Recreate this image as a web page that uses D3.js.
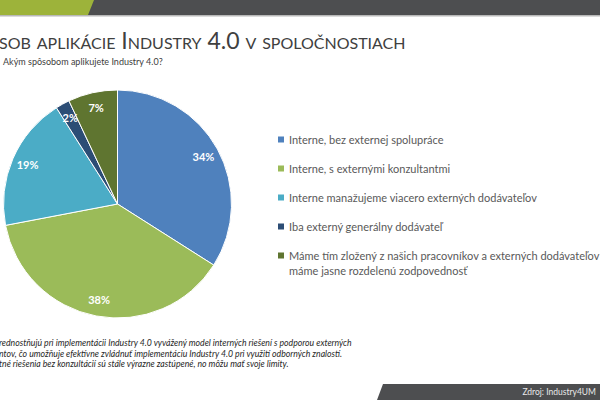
<!DOCTYPE html>
<html><head><meta charset="utf-8">
<script src="https://cdn.jsdelivr.net/npm/d3@7/dist/d3.min.js"></script>
<style>body{margin:0;background:#fff}svg{display:block}</style>
</head><body>
<svg id="c" width="600" height="400"></svg>
<script>
const categories = ["Interne, bez externej spolupráce","Interne, s externými konzultantmi","Interne manažujeme viacero externých dodávateľov","Iba externý generálny dodávateľ","Máme tím zložený z našich pracovníkov a externých dodávateľov|máme jasne rozdelenú zodpovednosť"];
const values = [34, 38, 19, 2, 7];
const colors = ["#4F81BD","#9BBB59","#4BACC6","#2C4D75","#5F7530"];
const titleText = "sob aplikácie Industry 4.0 v spoločnostiach";
const subtitleText = "Akým spôsobom aplikujete Industry 4.0?";
const noteLines = ["rednostňujú pri implementácii Industry 4.0 vyvážený model interných riešení s podporou externých","ntov, čo umožňuje efektívne zvládnuť implementáciu Industry 4.0 pri využití odborných znalostí.","tné riešenia bez konzultácií sú stále výrazne zastúpené, no môžu mať svoje limity."];
const sourceText = "Zdroj: Industry4UM";

const svg = d3.select("#c");
const F = "Lato, 'Open Sans', sans-serif";

// top bar
svg.append("rect").attr("x",0).attr("y",0).attr("width",600).attr("height",15).attr("fill","#4D4E50");
svg.append("rect").attr("x",0).attr("y",15).attr("width",600).attr("height",1.5).attr("fill","#B8B8B8");
svg.append("path").attr("d","M0,0 L94,0 L88,15 L0,15 Z").attr("fill","#9DB33A");

// bottom bar
svg.append("path").attr("d","M383,384 L600,384 L600,400 L377,400 Z").attr("fill","#4D4E50");
svg.append("text").attr("x",596).attr("y",395).attr("text-anchor","end")
  .attr("font-family",F).attr("font-size",8.5).attr("fill","#E8E8E8").text(sourceText);

// title
svg.append("text").attr("x",-1).attr("y",49).attr("font-family",F).attr("font-size",23)
  .attr("font-weight",400).style("font-variant","small-caps").attr("fill","#404040").text(titleText);
svg.append("text").attr("x",3).attr("y",65).attr("font-family",F).attr("font-size",9)
  .attr("fill","#404040").text(subtitleText);

// pie
const cx = 117.5, cy = 204, R = 114;
const g = svg.append("g").attr("transform",`translate(${cx},${cy})`);
const pie = d3.pie().sort(null).value(d=>d)(values);
const arc = d3.arc().innerRadius(0).outerRadius(R);
const labelArc = d3.arc().innerRadius(R*0.86).outerRadius(R*0.86);
g.selectAll("path.s").data(pie).join("path").attr("class","s")
  .attr("d",arc).attr("fill",(d,i)=>colors[i]).attr("stroke","#fff").attr("stroke-width",1);
g.selectAll("text.l").data(pie).join("text").attr("class","l")
  .attr("transform",d=>`translate(${labelArc.centroid(d)})`)
  .attr("text-anchor","middle").attr("dy","0.35em")
  .attr("font-family",F).attr("font-size",11).attr("font-weight","bold").attr("fill","#fff")
  .text(d=>d.data+"%");

// legend
const lg = svg.append("g");
const ly = d3.scalePoint().domain(d3.range(categories.length)).range([140,256]);
categories.forEach((c,i)=>{
  const y = ly(i);
  lg.append("rect").attr("x",278).attr("y",y-3.5).attr("width",6).attr("height",6).attr("fill",colors[i]);
  c.split("|").forEach((t,j)=>{
    lg.append("text").attr("x",289).attr("y",y+j*15).attr("dy","0.35em")
      .attr("font-family",F).attr("font-size",11).attr("fill","#595959").text(t);
  });
});

// footnote
noteLines.forEach((t,i)=>{
  svg.append("text").attr("x",-1).attr("y",346+i*10.7).attr("font-family",F).attr("font-size",8.7)
    .attr("font-style","italic").attr("fill","#262626").text(t);
});
</script>
</body></html>
